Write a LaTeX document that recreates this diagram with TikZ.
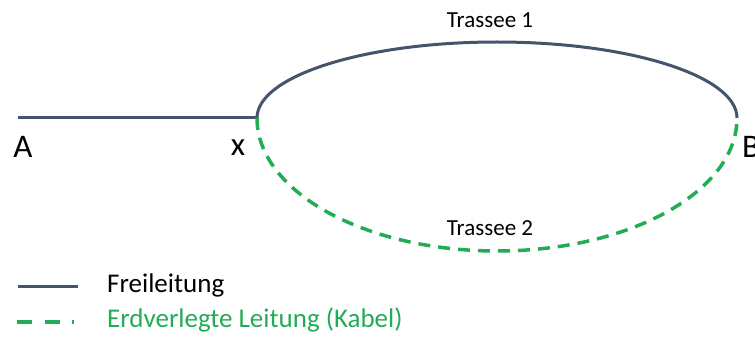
\documentclass[tikz,border=0pt]{standalone}
\usepackage{fontspec}
\setmainfont{Carlito}
\definecolor{slate}{RGB}{68,84,106}
\definecolor{cablegreen}{RGB}{34,172,86}
\begin{document}
\begin{tikzpicture}[x=1pt,y=1pt,
  overhead/.style={draw=slate,line width=3pt},
  cable/.style={draw=cablegreen,line width=3.5pt,dash pattern=on 12pt off 8pt},
  bigletter/.style={font=\fontsize{33}{33}\selectfont,inner sep=0pt},
  routelabel/.style={font=\fontsize{23}{23}\selectfont,inner sep=0pt},
  legendtext/.style={font=\fontsize{27}{27}\selectfont,inner sep=0pt,anchor=west}]
\useasboundingbox (0,0) rectangle (755,338);
% end points
\coordinate (a) at (18,220);
\coordinate (xp) at (257,220);
% overhead line A -- x
\draw[overhead] (a) -- (xp);
% route 1: upper arc, overhead line
\draw[overhead] (xp) arc[start angle=180,end angle=0,x radius=240pt,y radius=76pt] coordinate (bp);
% route 2: lower arc, underground cable
\draw[cable] (xp) arc[start angle=180,end angle=360,x radius=240pt,y radius=133pt];
% point labels
\node[bigletter] (lA) at (23,191) {A};
\node[bigletter] (lx) at (238,190) {x};
\node[bigletter,anchor=west] (lB) at (742,191) {B};
\node[routelabel] (t1) at (490,318) {Trassee 1};
\node[routelabel] (t2) at (490,110) {Trassee 2};
% legend
\coordinate (l1s) at (18,52);
\coordinate (l1e) at (78,52);
\draw[overhead] (l1s) -- (l1e);
\node[legendtext] (f) at (107,53) {Freileitung};
\coordinate (l2s) at (17,16);
\coordinate (l2e) at (74,16);
\draw[draw=cablegreen,line width=3.5pt,dash pattern=on 15pt off 13pt on 15pt off 12pt on 2pt off 10pt] (l2s) -- (l2e);
\node[legendtext,text=cablegreen] (e) at (107,18) {Erdverlegte Leitung (Kabel)};
\end{tikzpicture}
\end{document}
